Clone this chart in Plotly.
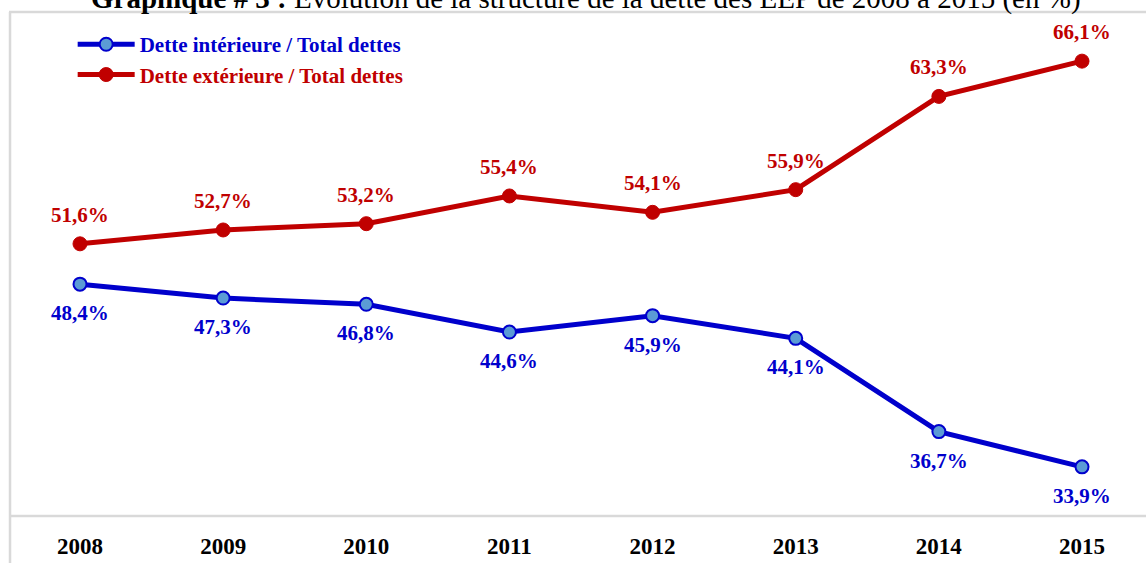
import plotly.graph_objects as go

years = [2008, 2009, 2010, 2011, 2012, 2013, 2014, 2015]
interieure = [48.4, 47.3, 46.8, 44.6, 45.9, 44.1, 36.7, 33.9]
exterieure = [51.6, 52.7, 53.2, 55.4, 54.1, 55.9, 63.3, 66.1]
name_int = "Dette intérieure / Total dettes"
name_ext = "Dette extérieure / Total dettes"
title_bold = "Graphique # 3 :"
title_rest = " Évolution de la structure de la dette des EEP de 2008 à 2015 (en %)"

BLUE = "#0000CC"
RED = "#C00000"
FONT = "Liberation Serif"

def fmt(v):
    return f"{v:.1f}".replace(".", ",") + "%"

fig = go.Figure()
fig.add_trace(go.Scatter(
    x=years, y=interieure, name=f"<span style='color:{BLUE}'>{name_int}</span>",
    mode="lines+markers",
    line=dict(color=BLUE, width=5),
    marker=dict(size=13, color="#5B9BD5", line=dict(color=BLUE, width=2)),
))
fig.add_trace(go.Scatter(
    x=years, y=exterieure, name=f"<span style='color:{RED}'>{name_ext}</span>",
    mode="lines+markers",
    line=dict(color=RED, width=5),
    marker=dict(size=14, color=RED, line=dict(color=RED, width=1)),
))

for x, v in zip(years, interieure):
    fig.add_annotation(x=x, y=v, text=fmt(v), showarrow=False, yshift=-29,
                       font=dict(family=FONT, size=21, color=BLUE, weight="bold"))
for x, v in zip(years, exterieure):
    fig.add_annotation(x=x, y=v, text=fmt(v), showarrow=False, yshift=29,
                       font=dict(family=FONT, size=21, color=RED, weight="bold"))

fig.add_annotation(xref="paper", yref="paper", x=0.5075, y=0.990, yanchor="bottom",
                   showarrow=False,
                   text=f"<b>{title_bold}</b>{title_rest}",
                   font=dict(family=FONT, size=29, color="#000000"))

# frame
GRAY = "#D9D9D9"
fig.add_shape(type="line", xref="paper", yref="paper", x0=0.0009, x1=0.0009, y0=1.0, y1=-0.2,
              line=dict(color=GRAY, width=2.5))
fig.add_shape(type="line", xref="paper", yref="paper", x0=0.0, x1=1.0, y0=1.0, y1=1.0,
              line=dict(color=GRAY, width=2.5))
fig.add_shape(type="line", xref="paper", yref="paper", x0=0.0, x1=1.0, y0=0.0, y1=0.0,
              line=dict(color=GRAY, width=2.5))

fig.update_layout(
    width=1146, height=563,
    margin=dict(l=9, r=0, t=12, b=47),
    paper_bgcolor="white", plot_bgcolor="white",
    showlegend=True,
    legend=dict(x=0.056, y=0.976, xanchor="left", yanchor="top",
                font=dict(family=FONT, size=21, weight="bold"),
                bgcolor="rgba(0,0,0,0)", itemwidth=57, tracegroupgap=0),
    xaxis=dict(range=[2007.504, 2015.447], tickmode="array", tickvals=years,
               ticktext=[str(y) for y in years], showgrid=False, zeroline=False,
               showline=False, ticks="", ticklabelstandoff=14,
               tickfont=dict(family=FONT, size=23, color="#000000", weight="bold")),
    yaxis=dict(range=[30, 70], showgrid=False, zeroline=False, showline=False,
               showticklabels=False, ticks=""),
)

fig.write_html("out.html")
